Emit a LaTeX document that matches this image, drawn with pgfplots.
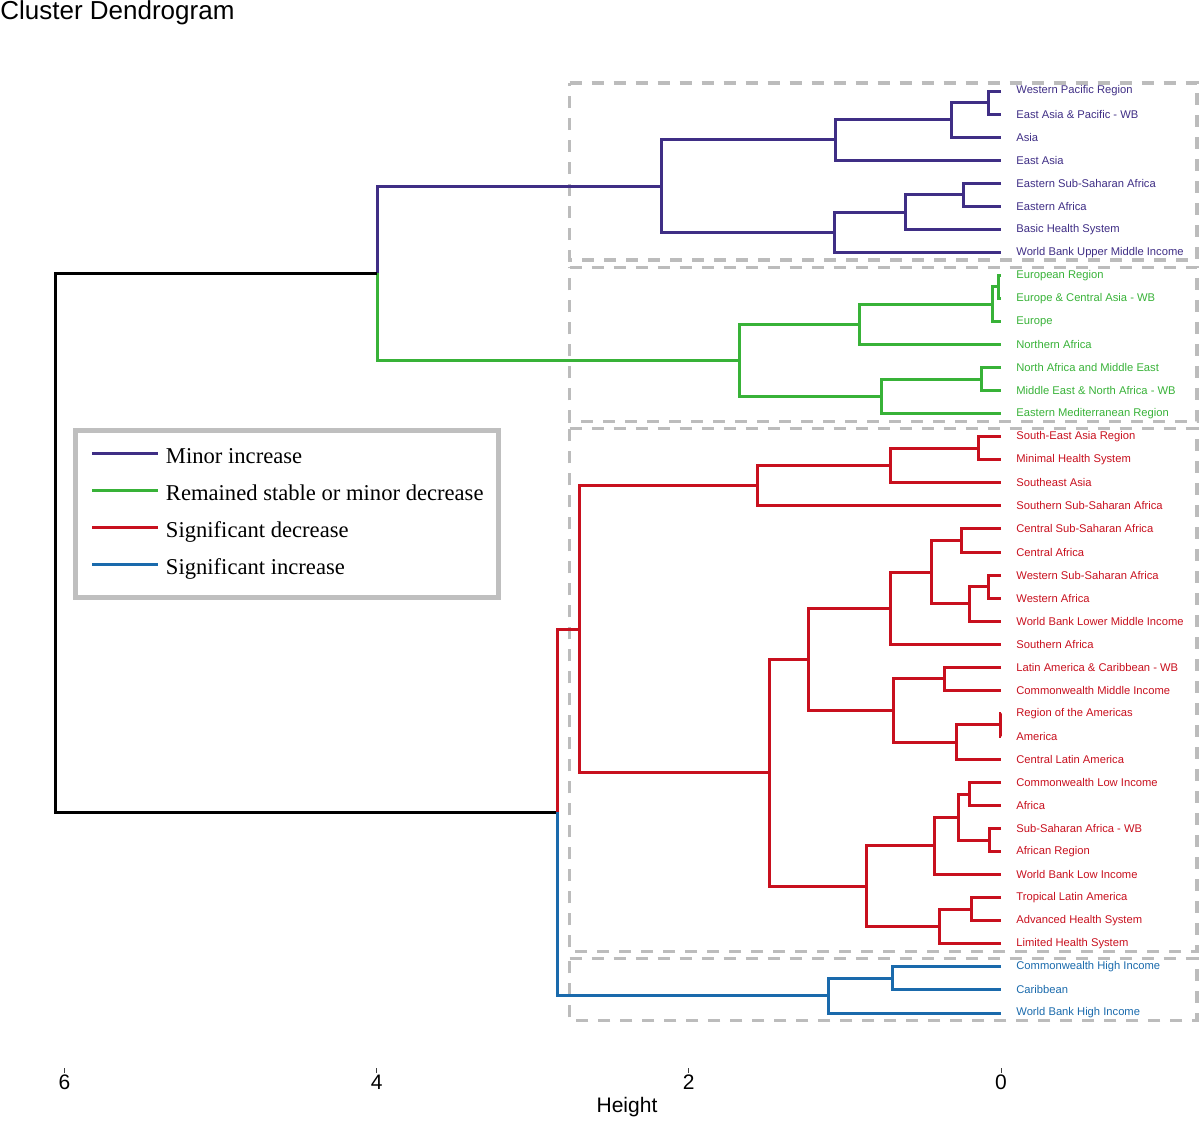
\documentclass[border=0pt]{standalone}
\usepackage{fontspec}
\setmainfont{Liberation Sans}
\newfontfamily\legfont{Liberation Serif}
\usepackage{pgfplots}
\pgfplotsset{compat=1.18}

\definecolor{purp}{RGB}{63,46,133}
\definecolor{grn}{RGB}{56,178,56}
\definecolor{rd}{RGB}{200,16,30}
\definecolor{blu}{RGB}{26,106,172}
\definecolor{boxgray}{RGB}{188,188,188}

\pgfplotsset{
  dend/.style={line width=1.5pt, mark=none, forget plot},
  gbox/.style={boxgray, line width=1.6pt, dash pattern=on 6pt off 5pt, mark=none, forget plot},
}
\tikzset{leaf/.style={anchor=west, inner sep=0pt, font=\fontsize{5.6}{6.5}\selectfont}}

\begin{document}
\begin{tikzpicture}
\begin{axis}[
  at={(0pt,0pt)}, anchor=south west,
  scale only axis, width=600pt, height=504pt,
  x dir=reverse, y dir=reverse,
  xmin=-1.2748, xmax=6.4126,
  ymin=-0.3449, ymax=43.386,
  axis x line*=bottom, axis y line=none,
  x axis line style={draw=none},
  xtick={0,2,4,6}, tick align=outside, major tick length=2.5pt,
  xtick style={black!75, line width=0.5pt},
  /pgf/number format/assume math mode=true,
  ticklabel style={font=\fontsize{10.5}{12}\selectfont},
  xticklabel style={yshift=2.5pt},
  xlabel={Height},
  xlabel style={font=\fontsize{10.5}{12}\selectfont, at={(axis description cs:0.5225,0)},
    anchor=center, yshift=-19.5pt},
  clip=false,
  legend style={at={(axis description cs:0.06125,0.6345)}, anchor=north west,
    draw=black!25, line width=2.5pt, fill=white,
    font=\legfont\fontsize{11.3}{13}\selectfont,
    inner xsep=7.5pt, inner ysep=8.5pt, row sep=7.5pt, column sep=3pt,
    nodes={inner sep=0pt, text height=8pt, text depth=3pt}},
  legend cell align=left,
  legend image code/.code={\draw[#1, line width=1.5pt] (0pt,2.5pt) -- (33pt,2.5pt);},
]
\addlegendimage{purp}
\addlegendentry{Minor increase}
\addlegendimage{grn}
\addlegendentry{Remained stable or minor decrease}
\addlegendimage{rd}
\addlegendentry{Significant decrease}
\addlegendimage{blu}
\addlegendentry{Significant increase}

% cluster boxes
\addplot[gbox] coordinates {(2.764,0.65) (-1.256,0.65) (-1.256,8.33) (2.764,8.33) (2.764,0.65)};
\addplot[gbox] coordinates {(2.764,8.65) (-1.256,8.65) (-1.256,15.33) (2.764,15.33) (2.764,8.65)};
\addplot[gbox] coordinates {(2.764,15.65) (-1.256,15.65) (-1.256,38.33) (2.764,38.33) (2.764,15.65)};
\addplot[gbox] coordinates {(2.764,38.65) (-1.256,38.65) (-1.256,41.33) (2.764,41.33) (2.764,38.65)};

% purple cluster
\addplot[dend, purp] coordinates {(0,1) (0.083,1) (0.083,2) (0,2)};
\addplot[dend, purp] coordinates {(0.083,1.5) (0.320,1.5) (0.320,3) (0,3)};
\addplot[dend, purp] coordinates {(0.320,2.25) (1.063,2.25) (1.063,4) (0,4)};
\addplot[dend, purp] coordinates {(0,5) (0.243,5) (0.243,6) (0,6)};
\addplot[dend, purp] coordinates {(0.243,5.5) (0.611,5.5) (0.611,7) (0,7)};
\addplot[dend, purp] coordinates {(0.611,6.25) (1.065,6.25) (1.065,8) (0,8)};
\addplot[dend, purp] coordinates {(1.063,3.125) (2.177,3.125) (2.177,7.125) (1.065,7.125)};
\addplot[dend, purp] coordinates {(2.177,5.125) (3.997,5.125) (3.997,8.90625)};

% green cluster
\addplot[dend, grn] coordinates {(3.997,8.90625) (3.997,12.6875) (1.675,12.6875)};
\addplot[dend, grn] coordinates {(0,9) (0.015,9) (0.015,10) (0,10)};
\addplot[dend, grn] coordinates {(0.015,9.5) (0.053,9.5) (0.053,11) (0,11)};
\addplot[dend, grn] coordinates {(0.053,10.25) (0.908,10.25) (0.908,12) (0,12)};
\addplot[dend, grn] coordinates {(0,13) (0.124,13) (0.124,14) (0,14)};
\addplot[dend, grn] coordinates {(0.124,13.5) (0.765,13.5) (0.765,15) (0,15)};
\addplot[dend, grn] coordinates {(0.908,11.125) (1.675,11.125) (1.675,14.25) (0.765,14.25)};

% root
\addplot[dend, black] coordinates {(3.997,8.90625) (6.054,8.90625) (6.054,32.30078) (2.838,32.30078)};

% red cluster
\addplot[dend, rd] coordinates {(0,16) (0.145,16) (0.145,17) (0,17)};
\addplot[dend, rd] coordinates {(0.145,16.5) (0.711,16.5) (0.711,18) (0,18)};
\addplot[dend, rd] coordinates {(0.711,17.25) (1.557,17.25) (1.557,19) (0,19)};
\addplot[dend, rd] coordinates {(0,20) (0.252,20) (0.252,21) (0,21)};
\addplot[dend, rd] coordinates {(0,22) (0.077,22) (0.077,23) (0,23)};
\addplot[dend, rd] coordinates {(0.077,22.5) (0.203,22.5) (0.203,24) (0,24)};
\addplot[dend, rd] coordinates {(0.252,20.5) (0.444,20.5) (0.444,23.25) (0.203,23.25)};
\addplot[dend, rd] coordinates {(0.444,21.875) (0.707,21.875) (0.707,25) (0,25)};
\addplot[dend, rd] coordinates {(0,26) (0.363,26) (0.363,27) (0,27)};
\addplot[dend, rd] coordinates {(0,28) (0.005,28) (0.005,29) (0,29)};
\addplot[dend, rd] coordinates {(0.005,28.5) (0.288,28.5) (0.288,30) (0,30)};
\addplot[dend, rd] coordinates {(0.363,26.5) (0.690,26.5) (0.690,29.25) (0.288,29.25)};
\addplot[dend, rd] coordinates {(0.707,23.4375) (1.236,23.4375) (1.236,27.875) (0.690,27.875)};
\addplot[dend, rd] coordinates {(0,31) (0.199,31) (0.199,32) (0,32)};
\addplot[dend, rd] coordinates {(0,33) (0.075,33) (0.075,34) (0,34)};
\addplot[dend, rd] coordinates {(0.199,31.5) (0.274,31.5) (0.274,33.5) (0.075,33.5)};
\addplot[dend, rd] coordinates {(0.274,32.5) (0.423,32.5) (0.423,35) (0,35)};
\addplot[dend, rd] coordinates {(0,36) (0.192,36) (0.192,37) (0,37)};
\addplot[dend, rd] coordinates {(0.192,36.5) (0.397,36.5) (0.397,38) (0,38)};
\addplot[dend, rd] coordinates {(0.423,33.75) (0.860,33.75) (0.860,37.25) (0.397,37.25)};
\addplot[dend, rd] coordinates {(1.236,25.65625) (1.480,25.65625) (1.480,35.5) (0.860,35.5)};
\addplot[dend, rd] coordinates {(1.557,18.125) (2.697,18.125) (2.697,30.578125) (1.480,30.578125)};
\addplot[dend, rd] coordinates {(2.697,24.35156) (2.838,24.35156) (2.838,32.30078)};

% blue cluster
\addplot[dend, blu] coordinates {(2.838,32.30078) (2.838,40.25) (1.108,40.25)};
\addplot[dend, blu] coordinates {(0,39) (0.692,39) (0.692,40) (0,40)};
\addplot[dend, blu] coordinates {(0.692,39.5) (1.108,39.5) (1.108,41) (0,41)};

% leaf labels
\node[leaf, text=purp] at (axis cs:-0.096,1) {Western Pacific Region};
\node[leaf, text=purp] at (axis cs:-0.096,2) {East Asia \& Pacific - WB};
\node[leaf, text=purp] at (axis cs:-0.096,3) {Asia};
\node[leaf, text=purp] at (axis cs:-0.096,4) {East Asia};
\node[leaf, text=purp] at (axis cs:-0.096,5) {Eastern Sub-Saharan Africa};
\node[leaf, text=purp] at (axis cs:-0.096,6) {Eastern Africa};
\node[leaf, text=purp] at (axis cs:-0.096,7) {Basic Health System};
\node[leaf, text=purp] at (axis cs:-0.096,8) {World Bank Upper Middle Income};
\node[leaf, text=grn] at (axis cs:-0.096,9) {European Region};
\node[leaf, text=grn] at (axis cs:-0.096,10) {Europe \& Central Asia - WB};
\node[leaf, text=grn] at (axis cs:-0.096,11) {Europe};
\node[leaf, text=grn] at (axis cs:-0.096,12) {Northern Africa};
\node[leaf, text=grn] at (axis cs:-0.096,13) {North Africa and Middle East};
\node[leaf, text=grn] at (axis cs:-0.096,14) {Middle East \& North Africa - WB};
\node[leaf, text=grn] at (axis cs:-0.096,15) {Eastern Mediterranean Region};
\node[leaf, text=rd] at (axis cs:-0.096,16) {South-East Asia Region};
\node[leaf, text=rd] at (axis cs:-0.096,17) {Minimal Health System};
\node[leaf, text=rd] at (axis cs:-0.096,18) {Southeast Asia};
\node[leaf, text=rd] at (axis cs:-0.096,19) {Southern Sub-Saharan Africa};
\node[leaf, text=rd] at (axis cs:-0.096,20) {Central Sub-Saharan Africa};
\node[leaf, text=rd] at (axis cs:-0.096,21) {Central Africa};
\node[leaf, text=rd] at (axis cs:-0.096,22) {Western Sub-Saharan Africa};
\node[leaf, text=rd] at (axis cs:-0.096,23) {Western Africa};
\node[leaf, text=rd] at (axis cs:-0.096,24) {World Bank Lower Middle Income};
\node[leaf, text=rd] at (axis cs:-0.096,25) {Southern Africa};
\node[leaf, text=rd] at (axis cs:-0.096,26) {Latin America \& Caribbean - WB};
\node[leaf, text=rd] at (axis cs:-0.096,27) {Commonwealth Middle Income};
\node[leaf, text=rd] at (axis cs:-0.096,28) {Region of the Americas};
\node[leaf, text=rd] at (axis cs:-0.096,29) {America};
\node[leaf, text=rd] at (axis cs:-0.096,30) {Central Latin America};
\node[leaf, text=rd] at (axis cs:-0.096,31) {Commonwealth Low Income};
\node[leaf, text=rd] at (axis cs:-0.096,32) {Africa};
\node[leaf, text=rd] at (axis cs:-0.096,33) {Sub-Saharan Africa - WB};
\node[leaf, text=rd] at (axis cs:-0.096,34) {African Region};
\node[leaf, text=rd] at (axis cs:-0.096,35) {World Bank Low Income};
\node[leaf, text=rd] at (axis cs:-0.096,36) {Tropical Latin America};
\node[leaf, text=rd] at (axis cs:-0.096,37) {Advanced Health System};
\node[leaf, text=rd] at (axis cs:-0.096,38) {Limited Health System};
\node[leaf, text=blu] at (axis cs:-0.096,39) {Commonwealth High Income};
\node[leaf, text=blu] at (axis cs:-0.096,40) {Caribbean};
\node[leaf, text=blu] at (axis cs:-0.096,41) {World Bank High Income};
\end{axis}
\node[anchor=base west, inner sep=0pt, font=\fontsize{13}{15}\selectfont] at (0pt,524pt) {Cluster Dendrogram};
\pgfresetboundingbox
\path[use as bounding box] (0pt,-26pt) rectangle (600pt,534pt);
\end{tikzpicture}
\end{document}
